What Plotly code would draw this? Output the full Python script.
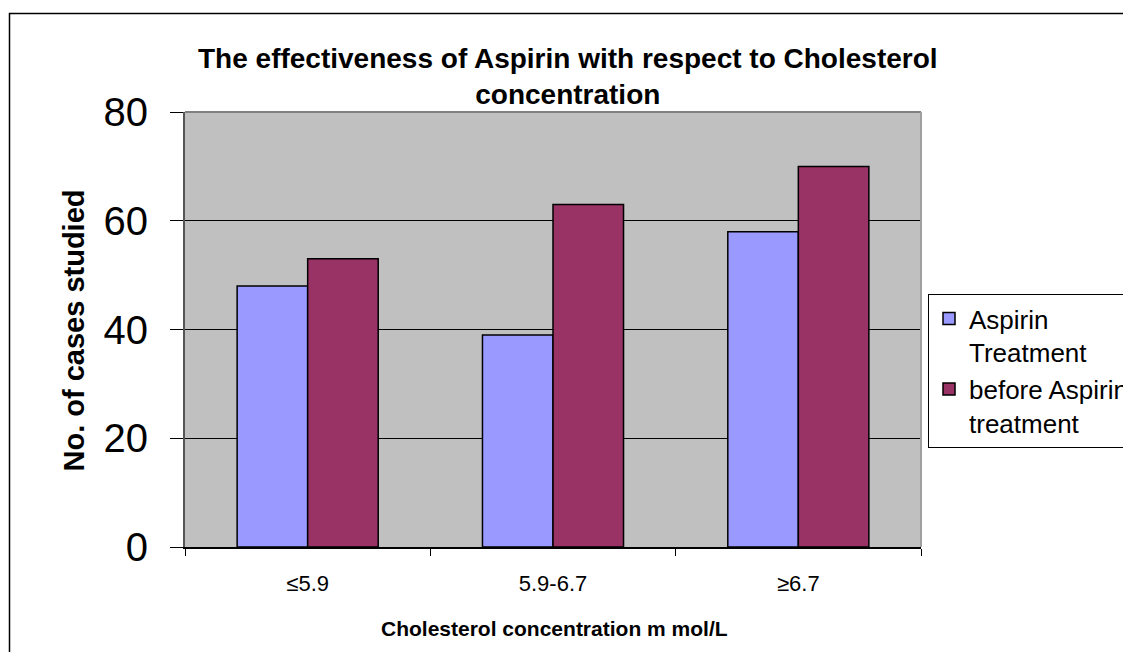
import plotly.graph_objects as go

categories = ["≤5.9", "5.9-6.7", "≥6.7"]
aspirin_treatment = [48, 39, 58]
before_aspirin = [53, 63, 70]
series_names = ["Aspirin<br>Treatment", "before Aspirin<br>treatment"]
y_ticks = [0, 20, 40, 60, 80]

FONT = "Liberation Sans, Arial, sans-serif"

# the page body adds an 8px offset; work in screen pixels and convert
OFF = 8
W, H = 1131 - OFF, 652 - OFF
SL, SR, ST, SB = 185, 921, 112, 547          # plot area in screen pixels
L, R, T, B = SL - OFF, SR - OFF, ST - OFF, SB - OFF

def sx(p):
    return (p - SL) / (SR - SL)

def sy(p):
    return (SB - p) / (SB - ST)

fig = go.Figure()
fig.add_trace(go.Bar(x=categories, y=aspirin_treatment, name=series_names[0],
                     marker=dict(color="#9999FF", line=dict(color="black", width=1.5))))
fig.add_trace(go.Bar(x=categories, y=before_aspirin, name=series_names[1],
                     marker=dict(color="#993366", line=dict(color="black", width=1.5))))

fig.update_layout(
    width=W, height=H,
    margin=dict(l=L, r=W - R, t=T, b=H - B, autoexpand=False),
    paper_bgcolor="white",
    plot_bgcolor="#C0C0C0",
    barmode="group",
    bargap=0.425,
    bargroupgap=0,
    font=dict(family=FONT, color="black"),
    legend=dict(
        x=sx(928), y=sy(294), xanchor="left", yanchor="top",
        font=dict(size=26, family=FONT, color="black"),
        bordercolor="black", borderwidth=1, bgcolor="white",
        traceorder="normal", valign="top",
    ),
    showlegend=True,
)

fig.update_xaxes(
    type="category", showgrid=False,
    showline=True, linecolor="black", linewidth=1.5,
    ticks="outside", tickson="boundaries", ticklen=7, tickcolor="black", tickwidth=1,
    tickfont=dict(size=22, family=FONT, color="black"),
    ticklabelstandoff=16,
    zeroline=False,
)
fig.update_yaxes(
    range=[0, 80], tickvals=y_ticks, ticktext=[str(v) for v in y_ticks],
    showgrid=True, gridcolor="black", gridwidth=1,
    showline=True, linecolor="#555555", linewidth=2,
    ticks="outside", ticklen=13, tickcolor="black", tickwidth=1,
    tickfont=dict(size=40, family=FONT, color="black"),
    ticklabelstandoff=14,
    zeroline=False,
)

# gray frame of the plot area (top and right)
fig.add_shape(type="line", xref="paper", yref="paper", x0=0, x1=1, y0=1, y1=1,
              line=dict(color="#808080", width=2), layer="above")
fig.add_shape(type="line", xref="paper", yref="paper", x0=1, x1=1, y0=0, y1=1,
              line=dict(color="#A0A0A0", width=2), layer="above")

# outer chart border
fig.add_shape(type="rect", xref="paper", yref="paper",
              x0=sx(9.5), x1=sx(1145), y0=sy(680), y1=sy(13.5),
              line=dict(color="black", width=1.5), fillcolor="rgba(0,0,0,0)", layer="below")

# title
fig.add_annotation(text="<b>The effectiveness of Aspirin with respect to Cholesterol<br>concentration</b>",
                   xref="paper", yref="paper", x=sx(567.5), y=sy(76), showarrow=False,
                   font=dict(size=28, family=FONT, color="black"),
                   xanchor="center", yanchor="middle", align="center")

# axis titles
fig.add_annotation(text="<b>No. of cases studied</b>", xref="paper", yref="paper",
                   x=sx(73.5), y=sy(331), textangle=-90, showarrow=False,
                   font=dict(size=29, family=FONT, color="black"),
                   xanchor="center", yanchor="middle")
fig.add_annotation(text="<b>Cholesterol concentration m mol/L</b>", xref="paper", yref="paper",
                   x=sx(554), y=sy(628), showarrow=False,
                   font=dict(size=21, family=FONT, color="black"),
                   xanchor="center", yanchor="middle")

fig.write_html("out.html")
